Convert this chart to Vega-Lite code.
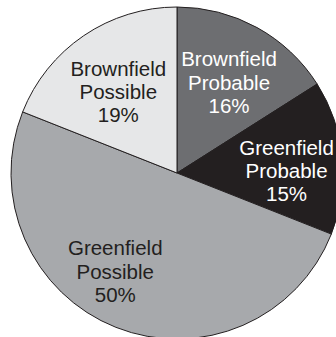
{
  "$schema": "https://vega.github.io/schema/vega-lite/v6.json",
  "width": 354,
  "height": 346,
  "autosize": "none",
  "padding": 0,
  "background": "white",
  "view": {"stroke": null},
  "data": {
    "values": [
      {"cat": "Brownfield Probable", "pct": 16, "label": "Brownfield\nProbable\n16%", "ord": 1},
      {"cat": "Greenfield Probable", "pct": 15, "label": "Greenfield\nProbable\n15%", "ord": 2},
      {"cat": "Greenfield Possible", "pct": 50, "label": "Greenfield\nPossible\n50%", "ord": 3},
      {"cat": "Brownfield Possible", "pct": 19, "label": "Brownfield\nPossible\n19%", "ord": 4}
    ]
  },
  "encoding": {
    "theta": {"field": "pct", "type": "quantitative", "stack": true},
    "order": {"field": "ord", "type": "quantitative"}
  },
  "layer": [
    {
      "mark": {"type": "arc", "outerRadius": 166, "stroke": "#231f20", "strokeWidth": 1},
      "encoding": {
        "color": {
          "field": "cat",
          "type": "nominal",
          "scale": {
            "domain": ["Brownfield Probable", "Greenfield Probable", "Greenfield Possible", "Brownfield Possible"],
            "range": ["#6d6e71", "#231f20", "#a7a9ac", "#e6e7e8"]
          },
          "legend": null
        }
      }
    },
    {
      "mark": {"type": "text", "radius": 108, "dy": -18, "fontSize": 20.5, "font": "Liberation Sans", "lineHeight": 23.3, "lineBreak": "\n", "baseline": "middle", "align": "center", "color": "#ffffff"},
      "encoding": {
        "text": {"condition": {"test": "datum.ord != 1", "value": ""}, "field": "label", "type": "nominal"}
      }
    },
    {
      "mark": {"type": "text", "radius": 108, "dx": 2, "dy": -14, "fontSize": 20.5, "font": "Liberation Sans", "lineHeight": 23.3, "lineBreak": "\n", "baseline": "middle", "align": "center"},
      "encoding": {
        "text": {"condition": {"test": "datum.ord == 1 || datum.ord == 3", "value": ""}, "field": "label", "type": "nominal"},
        "color": {"condition": {"test": "datum.ord == 2", "value": "#ffffff"}, "value": "#231f20"}
      }
    },
    {
      "mark": {"type": "text", "radius": 108, "dx": -22, "dy": -24, "fontSize": 20.5, "font": "Liberation Sans", "lineHeight": 23.3, "lineBreak": "\n", "baseline": "middle", "align": "center", "color": "#231f20"},
      "encoding": {
        "text": {"condition": {"test": "datum.ord != 3", "value": ""}, "field": "label", "type": "nominal"}
      }
    }
  ]
}
